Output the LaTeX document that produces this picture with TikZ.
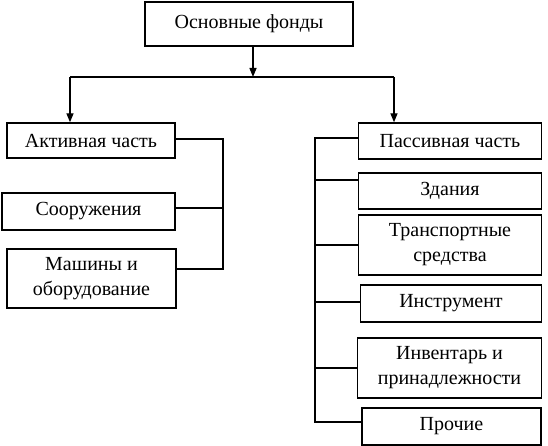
\documentclass[tikz,border=0pt]{standalone}
\usepackage{fontspec}
\setmainfont{Liberation Serif}
\usetikzlibrary{arrows.meta}
\begin{document}
\begin{tikzpicture}[x=1pt,y=-1pt,
  box/.style={draw,line width=1.4pt,rectangle,inner sep=1pt,align=center,
    font=\fontsize{20}{25}\selectfont},
  link/.style={line width=1.4pt},
  arr/.style={line width=1.4pt,-{Triangle[length=9pt,width=7pt]}}]
\useasboundingbox (0,0) rectangle (548,446);
\node[box,minimum width=208pt,minimum height=44pt] (top) at (249,24) {Основные фонды};
% left branch
\node[box,minimum width=168pt,minimum height=35pt] (act) at (91,140.5) {Активная часть};
\node[box,minimum width=173pt,minimum height=37pt] (soor) at (88.5,211.5) {Сооружения};
\node[box,minimum width=169pt,minimum height=59pt] (mash) at (91.5,278.5) {Машины и\\оборудование};
% right branch
\node[box,minimum width=183pt,minimum height=36pt] (pas) at (450,141) {Пассивная часть};
\node[box,minimum width=183pt,minimum height=36pt] (zd) at (450,191) {Здания};
\node[box,minimum width=183pt,minimum height=60pt] (tr) at (450,245) {Транспортные\\средства};
\node[box,minimum width=181pt,minimum height=37pt] (ins) at (451,303.5) {Инструмент};
\node[box,minimum width=184pt,minimum height=60pt] (inv) at (449.5,368) {Инвентарь и\\принадлежности};
\node[box,minimum width=179pt,minimum height=37pt] (pr) at (451.5,426.5) {Прочие};
% junctions
\coordinate (j) at (253,77);
\coordinate (jl) at (70,77);
\coordinate (jr) at (394,77);
\coordinate (lb1) at (223,139);
\coordinate (lb2) at (223,208);
\coordinate (lb3) at (223,269);
\coordinate (rb1) at (315,138);
\coordinate (rb2) at (315,180);
\coordinate (rb3) at (315,245);
\coordinate (rb4) at (315,302);
\coordinate (rb5) at (315,368);
\coordinate (rb6) at (315,422);
% top connectors
\draw[arr] (top.south -| j) -- (j);
\draw[link] (jl) -- (jr);
\draw[arr] (jl) -- (jl |- act.north);
\draw[arr] (jr) -- (jr |- pas.north);
% left bus
\draw[link] (lb1 -| act.east) -- (lb1) -- (lb3) -- (lb3 -| mash.east);
\draw[link] (lb2 -| soor.east) -- (lb2);
% right bus
\draw[link] (rb1 -| pas.west) -- (rb1) -- (rb6) -- (rb6 -| pr.west);
\draw[link] (rb2) -- (rb2 -| zd.west);
\draw[link] (rb3) -- (rb3 -| tr.west);
\draw[link] (rb4) -- (rb4 -| ins.west);
\draw[link] (rb5) -- (rb5 -| inv.west);
\end{tikzpicture}
\end{document}
